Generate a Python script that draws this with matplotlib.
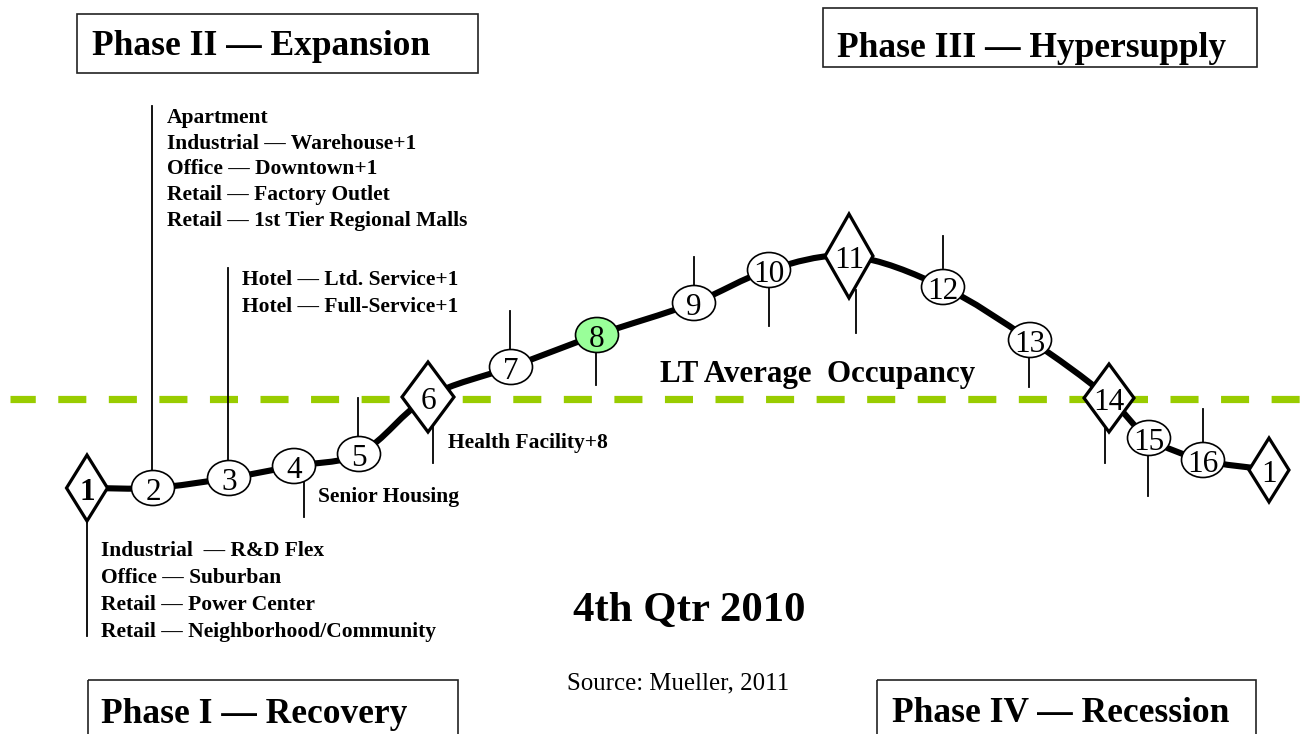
import numpy as np
import matplotlib
matplotlib.use("Agg")
import matplotlib.pyplot as plt
from matplotlib.patches import Ellipse, Polygon, Rectangle, PathPatch
from matplotlib.path import Path

# stages of the cycle (pixel positions)
stage_labels = ["1", "2", "3", "4", "5", "6", "7", "8", "9", "10",
                "11", "12", "13", "14", "15", "16", "1"]
stage_x = [87, 153, 229, 294, 359, 428, 511, 597, 694, 769,
           849, 943, 1030, 1109, 1149, 1203, 1269]
stage_y = [488, 488, 478, 466, 454, 397, 367, 335, 303, 270,
           256, 287, 340, 398, 438, 460, 470]
diamond_stages = [0, 5, 10, 13, 16]
current_stage = 7

# leader lines: x, from, to
stem_x = [87, 152, 228, 304, 358, 433, 510, 596, 694, 769, 856, 943, 1029, 1105, 1148, 1203]
stem_y0 = [510, 106, 268, 480, 398, 425, 311, 353, 257, 288, 290, 236, 358, 423, 455, 409]
stem_y1 = [636, 470, 460, 517, 437, 463, 350, 385, 285, 326, 333, 268, 387, 463, 496, 442]

lt_occupancy_y = 399

phase2_list = ["Apartment", "Industrial — Warehouse+1", "Office — Downtown+1",
               "Retail — Factory Outlet", "Retail — 1st Tier Regional Malls"]
hotel_list = ["Hotel — Ltd. Service+1", "Hotel — Full-Service+1"]
phase1_list = ["Industrial  — R&D Flex", "Office — Suburban",
               "Retail — Power Center", "Retail — Neighborhood/Community"]

fig = plt.figure(figsize=(13.12, 7.34), dpi=100)
ax = fig.add_axes([0, 0, 1, 1])
ax.set_xlim(0, 1312)
ax.set_ylim(734, 0)
ax.axis("off")

SERIF = "Liberation Serif"
SMALL = 15.5
plt.rcParams["lines.scale_dashes"] = False

# long-term average occupancy line
ax.plot([10, 1312], [lt_occupancy_y, lt_occupancy_y], color="#99CC00", lw=5.2,
        ls=(2, (20.2, 16.2)), solid_capstyle="butt", dash_capstyle="butt", zorder=1)

# leader lines
for x, y0, y1 in zip(stem_x, stem_y0, stem_y1):
    ax.plot([x, x], [y0, y1], color="black", lw=1.3, zorder=2)

# smooth curve through the stages (chord-length cardinal spline)
pts = np.column_stack([stage_x, stage_y]).astype(float)
n = len(pts)
d = np.hypot(*np.diff(pts, axis=0).T)
tang = np.zeros_like(pts)
tang[0] = (pts[1] - pts[0]) / d[0]
tang[-1] = (pts[-1] - pts[-2]) / d[-1]
for i in range(1, n - 1):
    tang[i] = (pts[i + 1] - pts[i - 1]) / (d[i - 1] + d[i])
verts = [pts[0]]
codes = [Path.MOVETO]
for i in range(n - 1):
    verts += [pts[i] + tang[i] * d[i] / 3, pts[i + 1] - tang[i + 1] * d[i] / 3, pts[i + 1]]
    codes += [Path.CURVE4] * 3
ax.add_patch(PathPatch(Path(verts, codes), fill=False, lw=4.4, color="black",
                       capstyle="round", zorder=3))

diamond_size = {0: (41, 66), 5: (52, 70), 10: (48, 84), 13: (50, 68), 16: (40, 64)}

for i, (lab, x, y) in enumerate(zip(stage_labels, stage_x, stage_y)):
    if i in diamond_stages:
        w, h = diamond_size[i]
        ax.add_patch(Polygon([(x - w / 2, y), (x, y - h / 2), (x + w / 2, y), (x, y + h / 2)],
                             closed=True, facecolor="white", edgecolor="black",
                             lw=2.3, zorder=4))
    else:
        fc = "#99FF99" if i == current_stage else "white"
        ax.add_patch(Ellipse((x, y), 43, 35, facecolor=fc, edgecolor="black",
                             lw=1.2, zorder=4))
    ax.text(x, y + 12, lab, ha="center", va="baseline", fontsize=22.5,
            family=SERIF, fontweight="bold" if i == 0 else "normal", zorder=5)

# phase boxes
phases = [("Phase II — Expansion", 77, 14, 401, 59, 92, 55),
          ("Phase III — Hypersupply", 823, 8, 434, 59, 837, 57),
          ("Phase I — Recovery", 88, 680, 370, 70, 101, 723),
          ("Phase IV — Recession", 877, 680, 379, 70, 892, 722)]
for txt, bx, by, bw, bh, tx, ty in phases:
    ax.add_patch(Rectangle((bx, by), bw, bh, fill=False, edgecolor="#222222", lw=1.2, zorder=4))
    ax.text(tx, ty, txt, ha="left", va="baseline", fontsize=25.5,
            family=SERIF, fontweight="bold", zorder=5)

# sector annotations
for k, t in enumerate(phase2_list):
    ax.text(167, 123 + 25.7 * k, t, fontsize=SMALL, family=SERIF, fontweight="bold",
            va="baseline", zorder=5)
for k, t in enumerate(hotel_list):
    ax.text(242, 285 + 27 * k, t, fontsize=SMALL, family=SERIF, fontweight="bold",
            va="baseline", zorder=5)
for k, t in enumerate(phase1_list):
    ax.text(101, 556 + 27 * k, t, fontsize=SMALL, family=SERIF, fontweight="bold",
            va="baseline", zorder=5)
ax.text(448, 448, "Health Facility+8", fontsize=SMALL, family=SERIF, fontweight="bold",
        va="baseline", zorder=5)
ax.text(318, 502, "Senior Housing", fontsize=SMALL, family=SERIF, fontweight="bold",
        va="baseline", zorder=5)

ax.text(660, 382, "LT Average  Occupancy", fontsize=22.3, family=SERIF,
        fontweight="bold", va="baseline", zorder=5)
ax.text(573, 621, "4th Qtr 2010", fontsize=30.8, family=SERIF, fontweight="bold",
        va="baseline", zorder=5)
ax.text(567, 689, "Source: Mueller, 2011", fontsize=17.9, family=SERIF,
        va="baseline", zorder=5)

fig.savefig("out.png", dpi=100)
